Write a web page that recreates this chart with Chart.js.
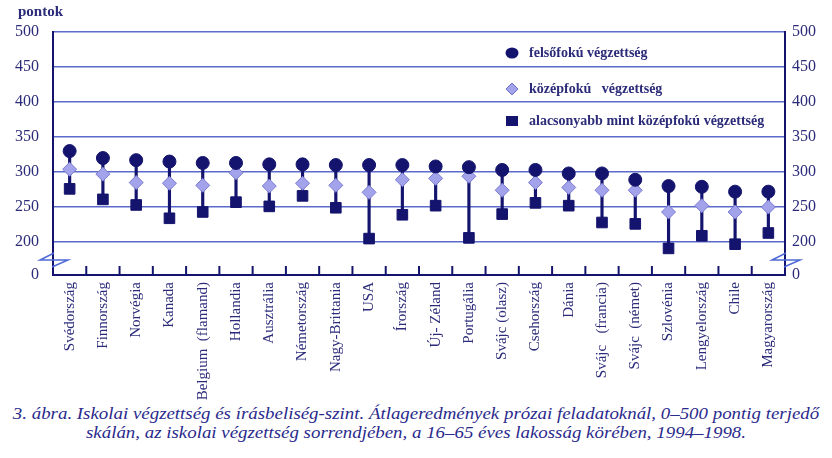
<!DOCTYPE html>
<html>
<head>
<meta charset="utf-8">
<script src="https://cdn.jsdelivr.net/npm/chart.js@4"></script>
<style>
  body { margin: 0; background: #fff; width: 832px; height: 458px; overflow: hidden; position: relative; }
  #wrap { position: absolute; left: 0; top: 0; width: 832px; height: 400px; }
  #caption {
    position: absolute; left: 0; top: 404px; width: 832px; text-align: center;
    font-family: "Liberation Serif", "Times New Roman", serif; font-style: italic; font-size: 16px;
    line-height: 19px; color: #2a2a8c; transform: scaleX(1.18); transform-origin: 416px 0;
  }
</style>
</head>
<body>
<div id="wrap"><canvas id="chart"></canvas></div>
<div id="caption">3. ábra. Iskolai végzettség és írásbeliség-szint. Átlageredmények prózai feladatoknál, 0–500 pontig terjedő<br>skálán, az iskolai végzettség sorrendjében, a 16–65 éves lakosság körében, 1994–1998.</div>
<script>
var countries = ['Svédország', 'Finnország', 'Norvégia', 'Kanada', 'Belgium  (flamand)', 'Hollandia',
    'Ausztrália', 'Németország', 'Nagy-Brittania', 'USA', 'Írország', 'Új- Zéland', 'Portugália',
    'Svájc (olasz)', 'Csehország', 'Dánia', 'Svájc   (francia)', 'Svájc  (német)', 'Szlovénia',
    'Lengyelország', 'Chile', 'Magyarország'];
var felsofoku = [330, 320, 317, 315, 313, 313, 311, 311, 310, 310, 310, 308, 307, 303, 303, 298, 298, 289, 280, 279, 272, 272];
var kozepfoku = [304, 297, 285, 284, 281, 299, 280, 284, 281, 271, 289, 291, 294, 274, 285, 278, 274, 274, 243, 252, 243, 250];
var alacsonyabb = [276, 261, 253, 234, 243, 257, 251, 266, 249, 205, 239, 252, 206, 240, 256, 252, 228, 226, 191, 209, 197, 213];
var yTickLabels = [0, 200, 250, 300, 350, 400, 450, 500];

var ZERO_AT = 153; // where the broken axis puts "0"
var navy = '#14146e';
var gridBlue = '#5b6acb';
var textNavy = '#2b2b7a';
var serif = '"Liberation Serif", "Times New Roman", serif';

var stems = alacsonyabb.map(function (v, i) { return [v, felsofoku[i]]; });

function yTicks(scale) {
    scale.ticks = yTickLabels.map(function (v) { return { value: v === 0 ? ZERO_AT : v }; });
}
function yLabel(value) {
    return value === ZERO_AT ? '0' : value;
}

var decorations = {
    id: 'decorations',
    afterDraw: function (chart) {
        var ctx = chart.ctx;
        var x = chart.scales.x;
        var area = chart.chartArea;
        ctx.save();
        // small upward ticks between categories
        ctx.strokeStyle = navy;
        ctx.lineWidth = 2;
        for (var i = 0; i < countries.length - 1; i++) {
            var px = (x.getPixelForValue(i) + x.getPixelForValue(i + 1)) / 2;
            ctx.beginPath();
            ctx.moveTo(px, area.bottom);
            ctx.lineTo(px, area.bottom - 9);
            ctx.stroke();
        }
        // axis break marks
        var by = area.bottom - 17;
        ctx.strokeStyle = '#4f6ad8';
        ctx.lineWidth = 1.5;
        [area.left, area.right].forEach(function (ax) {
            ctx.beginPath();
            ctx.moveTo(ax + 1, by - 5);
            ctx.lineTo(ax - 13, by + 2);
            ctx.lineTo(ax + 15, by + 2);
            ctx.lineTo(ax - 1, by + 9);
            ctx.stroke();
        });
        // unit label
        ctx.fillStyle = textNavy;
        ctx.font = 'bold 15px ' + serif;
        ctx.textBaseline = 'middle';
        ctx.fillText('pontok', 18, 12);
        // legend inside the plot
        var lx = 512;
        var items = [
            { y: 53, text: 'felsőfokú végzettség', shape: 'circle' },
            { y: 89, text: 'középfokú   végzettség', shape: 'diamond' },
            { y: 121, text: 'alacsonyabb mint középfokú végzettség', shape: 'square' }
        ];
        items.forEach(function (it) {
            ctx.beginPath();
            if (it.shape === 'circle') {
                ctx.fillStyle = navy;
                ctx.ellipse(lx, it.y, 6.5, 5.5, 0, 0, Math.PI * 2);
                ctx.fill();
            } else if (it.shape === 'diamond') {
                ctx.fillStyle = '#a3a3ec';
                ctx.strokeStyle = '#6d6dc4';
                ctx.lineWidth = 1;
                ctx.moveTo(lx, it.y - 6);
                ctx.lineTo(lx + 6, it.y);
                ctx.lineTo(lx, it.y + 6);
                ctx.lineTo(lx - 6, it.y);
                ctx.closePath();
                ctx.fill();
                ctx.stroke();
            } else {
                ctx.fillStyle = navy;
                ctx.fillRect(lx - 6, it.y - 5, 12, 10);
            }
            ctx.fillStyle = textNavy;
            ctx.font = 'bold 14px ' + serif;
            ctx.fillText(it.text, lx + 17, it.y);
        });
        ctx.restore();
    }
};

new Chart(document.getElementById('chart'), {
    data: {
        labels: countries,
        datasets: [{
            type: 'line',
            label: 'felsőfokú végzettség',
            data: felsofoku,
            showLine: false,
            pointStyle: 'circle',
            pointRadius: 6.5,
            backgroundColor: navy,
            borderColor: navy,
            order: 1
        }, {
            type: 'line',
            label: 'középfokú végzettség',
            data: kozepfoku,
            showLine: false,
            pointStyle: 'rectRot',
            pointRadius: 7,
            borderWidth: 1,
            backgroundColor: '#a3a3ec',
            borderColor: '#7a7ad0',
            order: 2
        }, {
            type: 'line',
            label: 'alacsonyabb mint középfokú végzettség',
            data: alacsonyabb,
            showLine: false,
            pointStyle: 'rect',
            pointRadius: 7.5,
            backgroundColor: navy,
            borderColor: navy,
            order: 3
        }, {
            type: 'bar',
            label: 'stem',
            data: stems,
            barThickness: 2.5,
            backgroundColor: navy,
            borderWidth: 0,
            order: 4
        }]
    },
    options: {
        responsive: true,
        maintainAspectRatio: false,
        animation: false,
        layout: { padding: { top: 32, left: 0, right: 0, bottom: 0 } },
        plugins: {
            legend: { display: false },
            tooltip: { enabled: false }
        },
        scales: {
            x: {
                offset: true,
                grid: { display: false, drawTicks: false },
                border: { color: navy, width: 2 },
                ticks: {
                    color: textNavy,
                    font: { family: serif, size: 15 },
                    maxRotation: 90,
                    minRotation: 90,
                    padding: 7,
                    autoSkip: false
                },
                afterFit: function (scale) { scale.height = 125; }
            },
            y: {
                position: 'left',
                min: ZERO_AT,
                max: 500,
                afterBuildTicks: yTicks,
                grid: {
                    drawTicks: false,
                    lineWidth: 1.5,
                    color: function (c) { return c.tick.value === ZERO_AT ? 'rgba(0,0,0,0)' : gridBlue; }
                },
                border: { color: navy, width: 2 },
                ticks: {
                    color: textNavy,
                    font: { family: serif, size: 16 },
                    padding: 14,
                    callback: yLabel
                },
                afterFit: function (scale) { scale.width = 53; }
            },
            y2: {
                position: 'right',
                min: ZERO_AT,
                max: 500,
                afterBuildTicks: yTicks,
                grid: { display: false, drawTicks: false },
                border: { color: navy, width: 2 },
                ticks: {
                    color: textNavy,
                    font: { family: serif, size: 16 },
                    padding: 7,
                    callback: yLabel
                },
                afterFit: function (scale) { scale.width = 47; }
            }
        }
    },
    plugins: [decorations]
});
</script>
</body>
</html>
